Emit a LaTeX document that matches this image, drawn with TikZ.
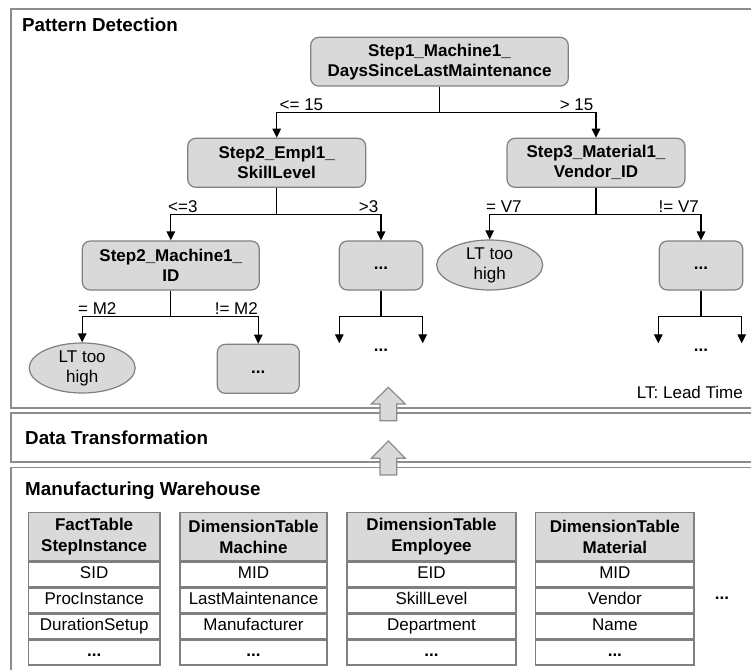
\documentclass[tikz,border=0pt]{standalone}
\usepackage{fontspec}
\setmainfont{Liberation Sans}
\usetikzlibrary{arrows.meta,shapes.geometric,calc}
\definecolor{boxfill}{HTML}{D9D9D9}
\definecolor{boxline}{HTML}{808080}
\definecolor{panelline}{HTML}{8C8C8C}
\newcommand{\dwtable}[8]{%
  \node[hcell, minimum width=#3pt] (#1h) at (#2+#3/2,-511.7) {#4};
  \node[cell, minimum width=#3pt] (#1a) at (#1h.south) {#5};
  \node[cell, minimum width=#3pt] (#1b) at (#1a.south) {#6};
  \node[cell, minimum width=#3pt] (#1c) at (#1b.south) {#7};
  \node[cell, minimum width=#3pt] (#1d) at (#1c.south) {#8};
}
\begin{document}
\begin{tikzpicture}[x=1pt,y=1pt,
  every node/.style={font=\fontsize{17}{20}\selectfont},
  dnode/.style={draw=boxline, line width=1.2pt, fill=boxfill, rounded corners=8pt, inner sep=0pt, align=center, font=\fontsize{17}{20}\selectfont\bfseries},
  dotsbox/.style={dnode, text height=12pt, text depth=3.5pt},
  leaf/.style={ellipse, draw=boxline, line width=1.2pt, fill=boxfill, inner sep=0pt, align=center, minimum width=106pt, minimum height=50pt},
  conn/.style={line width=1.3pt, draw=black},
  arr/.style={conn, -{Triangle[length=9pt,width=8.5pt]}},
  lbl/.style={inner sep=0pt},
  panel/.style={draw=panelline, line width=1.5pt},
  ptitle/.style={inner sep=0pt, anchor=base west, font=\fontsize{18.8}{22}\selectfont\bfseries},
  cell/.style={draw=boxline, line width=1.5pt, inner sep=0pt, minimum height=24.5pt, anchor=north, text height=12pt, text depth=3.5pt},
  hcell/.style={draw=boxline, line width=1.5pt, inner sep=0pt, anchor=north, fill=boxfill, minimum height=48.3pt, align=center, font=\fontsize{17}{21}\selectfont\bfseries},
  blockarrow/.style={draw=panelline, line width=1.2pt, fill=boxfill, line join=miter}
]
\useasboundingbox (0,0) rectangle (751,-669);
\fill[white] (0,0) rectangle (751,-669);
\clip (0,0) rectangle (751,-669);

% panels
\draw[panel] (11,-9) rectangle (780,-408);
\draw[panel] (11,-413) rectangle (780,-462);
\draw[panel] (11,-467.5) rectangle (780,-700);
\node[ptitle] (t1) at (22,-32) {Pattern Detection};
\node[ptitle] (t2) at (25,-444) {Data Transformation};
\node[ptitle] (t3) at (25,-495) {Manufacturing Warehouse};

% decision tree
\node[dnode, minimum width=257.6pt, minimum height=48.7pt] (root) at (439.5,-61.7) {Step1\_Machine1\_\\DaysSinceLastMaintenance};
\node[dnode, minimum width=178pt, minimum height=49pt] (s2) at (276.7,-162.8) {Step2\_Empl1\_\\SkillLevel};
\node[dnode, minimum width=178pt, minimum height=49pt] (s3) at (596,-162.8) {Step3\_Material1\_\\Vendor\_ID};
\node[dnode, minimum width=177pt, minimum height=49pt] (m1) at (170.8,-265.5) {Step2\_Machine1\_\\ID};
\node[dotsbox, minimum width=83.4pt, minimum height=49pt] (d1) at (381,-265.5) {...};
\node[leaf] (e1) at (489.7,-265) {LT too\\high};
\node[dotsbox, minimum width=83.4pt, minimum height=49pt] (d2) at (701,-265.5) {...};
\node[leaf] (e2) at (82.2,-368) {LT too\\high};
\node[dotsbox, minimum width=82pt, minimum height=49pt] (d3) at (258.3,-368.8) {...};

\coordinate (j1) at (439.5,-112.7);
\coordinate (j2) at (276.7,-214.3);
\coordinate (j3) at (596,-214.3);
\coordinate (j4) at (170.8,-316.7);
\coordinate (j5) at (381,-316.7);
\coordinate (j6) at (701,-316.7);
\coordinate (f1) at (339.3,-343.3);
\coordinate (f2) at (422.7,-343.3);
\coordinate (f3) at (658.3,-343.3);
\coordinate (f4) at (741.7,-343.3);

\draw[conn] (root) -- (j1);
\draw[arr] (j1) -| (s2);
\draw[arr] (j1) -| (s3);
\draw[conn] (s2) -- (j2);
\draw[arr] (j2) -| (m1);
\draw[arr] (j2) -| (d1);
\draw[conn] (s3) -- (j3);
\draw[arr] (j3) -| (e1);
\draw[arr] (j3) -| (d2);
\draw[conn] (m1) -- (j4);
\draw[arr] (j4) -| (e2);
\draw[arr] (j4) -| (d3);
\draw[conn] (d1) -- (j5);
\draw[arr] (j5) -| (f1);
\draw[arr] (j5) -| (f2);
\draw[conn] (d2) -- (j6);
\draw[arr] (j6) -| (f3);
\draw[arr] (j6) -| (f4);

\node[lbl, anchor=base west] (l1) at (279.5,-110.3) {<= 15};
\node[lbl, anchor=base east] (l2) at (593.5,-110.3) {> 15};
\node[lbl, anchor=base west] (l3) at (168,-212) {<=3};
\node[lbl, anchor=base east] (l4) at (378.5,-212) {>3};
\node[lbl, anchor=base west] (l5) at (486,-212) {= V7};
\node[lbl, anchor=base east] (l6) at (699,-212) {!= V7};
\node[lbl, anchor=base west] (l7) at (78,-314.3) {= M2};
\node[lbl, anchor=base east] (l8) at (258,-314.3) {!= M2};

\node[font=\fontsize{17}{20}\selectfont\bfseries, inner sep=0pt] (x1) at (381,-350) {...};
\node[font=\fontsize{17}{20}\selectfont\bfseries, inner sep=0pt] (x2) at (701,-350) {...};

\node[lbl, anchor=base east] (lt) at (743,-398) {LT: Lead Time};

% block arrows between layers
\draw[blockarrow] (380,-420.7) -- (380,-404) -- (371.3,-404) -- (388.3,-387.3) -- (405.3,-404) -- (396.7,-404) -- (396.7,-420.7) -- cycle;
\draw[blockarrow] (380,-475) -- (380,-458.3) -- (371.3,-458.3) -- (388.3,-441) -- (405.3,-458.3) -- (396.7,-458.3) -- (396.7,-475) -- cycle;

% warehouse tables
\dwtable{ta}{28.3}{131.7}{FactTable\\StepInstance}{SID}{ProcInstance}{DurationSetup}{\textbf{...}}
\dwtable{tb}{180}{147}{DimensionTable\\Machine}{MID}{LastMaintenance}{Manufacturer}{\textbf{...}}
\dwtable{tc}{347}{169}{DimensionTable\\Employee}{EID}{SkillLevel}{Department}{\textbf{...}}
\dwtable{td}{535.7}{158.3}{DimensionTable\\Material}{MID}{Vendor}{Name}{\textbf{...}}
\node[font=\fontsize{17}{20}\selectfont\bfseries, inner sep=0pt] (more) at (722,-598) {...};
\end{tikzpicture}
\end{document}
